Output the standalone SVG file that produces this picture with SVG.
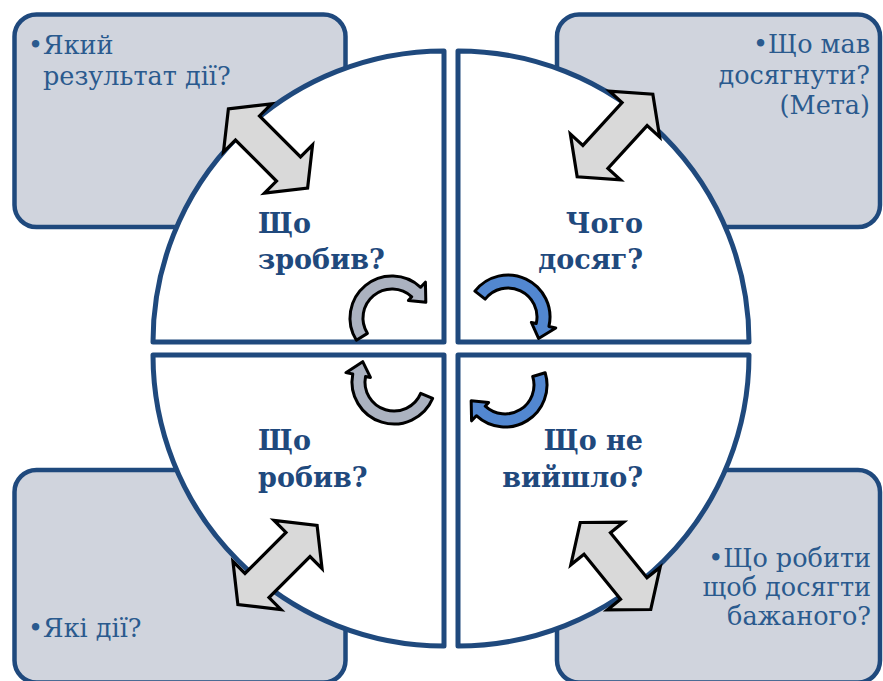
<svg xmlns="http://www.w3.org/2000/svg" xmlns:xlink="http://www.w3.org/1999/xlink" width="883" height="681" viewBox="0 0 883 681">
<style>
.box{fill:#D0D4DD;stroke:#1F497D;stroke-width:4.5}
.quad{fill:#FFFFFF;stroke:#1F497D;stroke-width:5;stroke-linejoin:round}
.dbl{fill:#D9D9D9;stroke:#000;stroke-width:3.2;stroke-linejoin:miter}
.cg{fill:#ABB2C0;stroke:#000;stroke-width:3;stroke-linejoin:round}
.cb{fill:#5287D0;stroke:#000;stroke-width:3;stroke-linejoin:round}
.t{font-family:"DejaVu Serif","Liberation Serif",serif;font-size:25.5px;fill:#2A5A8E}
.h{font-family:"DejaVu Serif","Liberation Serif",serif;font-size:27px;font-weight:bold;fill:#1F497D}
.e{text-anchor:end}
</style>
<defs>
<polygon id="dArrow" points="-56,0 -29,-34 -29,-17 29,-17 29,-34 56,0 29,34 29,17 -29,17 -29,34"/>
<path id="c168" d="M-41.08,-8.73 A42,42 0 0 1 42,0 L49,0 L34.6,14.0 L24,0 L29,0 A29,29 0 0 0 -28.37,-6.03 Z"/>
<path id="c165" d="M-40.57,-10.87 A42,42 0 0 1 42,0 L49,0 L34.6,14.0 L24,0 L29,0 A29,29 0 0 0 -28.01,-7.51 Z"/>
<path id="c155" d="M-38.06,-17.75 A42,42 0 0 1 42,0 L49,0 L34.6,14.0 L24,0 L29,0 A29,29 0 0 0 -26.28,-12.26 Z"/>
<path id="c150" d="M-36.37,-21 A42,42 0 0 1 42,0 L49,0 L34.6,14.0 L24,0 L29,0 A29,29 0 0 0 -25.11,-14.5 Z"/>
</defs>

<g id="box-tl"><rect class="box" x="14.5" y="14.5" width="331" height="212.5" rx="22"/>
<text class="t" x="28" y="54">•Який</text><text class="t" x="43" y="85">результат дії?</text></g>
<g id="box-tr"><rect class="box" x="557" y="14.5" width="323" height="212.5" rx="22"/>
<text class="t e" x="870" y="53">•Що мав</text><text class="t e" x="870" y="84">досягнути?</text><text class="t e" x="870" y="114">(Мета)</text></g>
<g id="box-bl"><rect class="box" x="14.5" y="470" width="331" height="212.5" rx="22"/>
<text class="t" x="28" y="637">•Які дії?</text></g>
<g id="box-br"><rect class="box" x="557" y="470" width="323" height="212.5" rx="22"/>
<text class="t e" x="871" y="567">•Що робити</text><text class="t e" x="871" y="596">щоб досягти</text><text class="t e" x="871" y="625">бажаного?</text></g>

<g id="quad-tl"><path class="quad" d="M444,342 L153,342 A291,291 0 0 1 444,51 Z"/></g>
<g id="quad-tr"><path class="quad" d="M458,342 L458,51 A291,291 0 0 1 749,342 Z"/></g>
<g id="quad-br"><path class="quad" d="M458,355 L749,355 A291,291 0 0 1 458,646 Z"/></g>
<g id="quad-bl"><path class="quad" d="M444,355 L444,646 A291,291 0 0 1 153,355 Z"/></g>

<g id="connectors">
<use xlink:href="#dArrow" class="dbl" transform="translate(268,148.5) rotate(45)"/>
<use xlink:href="#dArrow" class="dbl" transform="translate(615,135.5) rotate(132.5)"/>
<use xlink:href="#dArrow" class="dbl" transform="translate(277.5,565) rotate(-45)"/>
<use xlink:href="#dArrow" class="dbl" transform="translate(615.5,566) rotate(51)"/>
<use xlink:href="#c165" class="cg" transform="translate(392,318) rotate(313)"/>
<use xlink:href="#c155" class="cb" transform="translate(508,317) rotate(13)"/>
<use xlink:href="#c150" class="cb" transform="translate(505,385) rotate(133)"/>
<use xlink:href="#c168" class="cg" transform="translate(394,382) rotate(191)"/>
</g>

<g id="label-tl"><text class="h" x="258" y="233">Що</text><text class="h" x="258" y="269">зробив?</text></g>
<g id="label-tr"><text class="h e" x="643" y="233">Чого</text><text class="h e" x="643" y="269">досяг?</text></g>
<g id="label-bl"><text class="h" x="258" y="450">Що</text><text class="h" x="258" y="487">робив?</text></g>
<g id="label-br"><text class="h e" x="643" y="450">Що не</text><text class="h e" x="643" y="487">вийшло?</text></g>
</svg>
